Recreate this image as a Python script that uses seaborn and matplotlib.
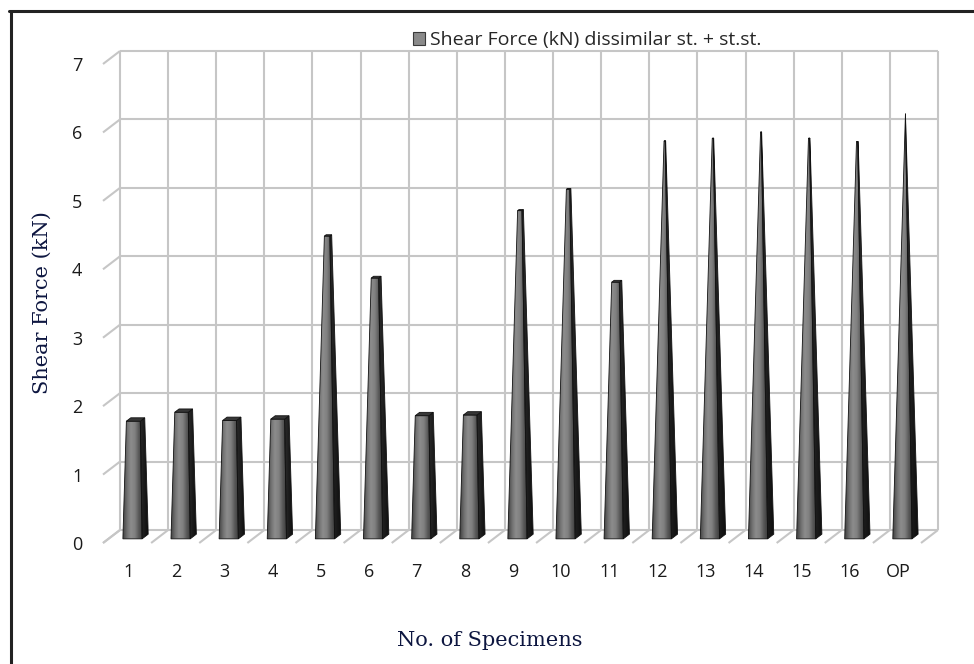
import numpy as np
import pandas as pd
import seaborn as sns
import matplotlib
matplotlib.use("Agg")
import matplotlib.pyplot as plt
import matplotlib.transforms as mtransforms
from matplotlib.patches import Polygon, Patch
from matplotlib.lines import Line2D
from matplotlib.colors import LinearSegmentedColormap

# ---- data -------------------------------------------------------------
specimens = ["1", "2", "3", "4", "5", "6", "7", "8", "9", "10",
             "11", "12", "13", "14", "15", "16", "OP"]
shear_force = [1.71, 1.84, 1.72, 1.74, 4.40, 3.79, 1.79, 1.80, 4.77, 5.08,
               3.73, 5.78, 5.82, 5.91, 5.82, 5.77, 6.18]
y_ticks = [0, 1, 2, 3, 4, 5, 6, 7]
series_label = "Shear Force (kN) dissimilar st. + st.st."
x_title = "No. of Specimens"
y_title = "Shear Force (kN)"

# ---- style ------------------------------------------------------------
sns.set_style("white")
TICK_FONT = ["Open Sans", "DejaVu Sans"]
TITLE_FONT = ["DejaVu Serif"]
TITLE_COLOR = "#0d1640"
GRID_COLOR = "#c6c6c6"
GRID_LW = 1.5

W, H, DPI = 974, 664, 100
fig = plt.figure(figsize=(W / DPI, H / DPI), dpi=DPI)
fig.patch.set_facecolor("white")

# back wall of the 3-D box
ax = fig.add_axes([120 / W, 1 - 530 / H, 818 / W, 479 / H])
df = pd.DataFrame({"Specimen": specimens, "Shear": shear_force})
sns.barplot(data=df, x="Specimen", y="Shear", order=specimens, width=0.4,
            color="#777777", saturation=1, ax=ax)
ax.set_xlim(-0.5, len(specimens) - 0.5)
ax.set_ylim(0, 7)
for sp in ax.spines.values():
    sp.set_visible(False)
ax.set_facecolor("none")
ax.set_xlabel("")
ax.set_ylabel("")

# pixel size of one data unit -> depth direction in data units
p0 = ax.transData.transform((0, 0))
p1 = ax.transData.transform((1, 1))
ppx, ppy = p1 - p0
DEPTH = (-17 / ppx, -13 / ppy)   # back wall (d=0) -> front edge (d=1)


def proj(x, y, d):
    return (x + d * DEPTH[0], y + d * DEPTH[1])


# ---- walls and floor grid --------------------------------------------
n = len(specimens)
xmin, xmax = -0.5, n - 0.5
gkw = dict(color=GRID_COLOR, lw=GRID_LW, clip_on=False, zorder=1,
           solid_capstyle="butt")
for yv in y_ticks:
    ax.plot([xmin, xmax], [yv, yv], **gkw)
    a, b = proj(xmin, yv, 0), proj(xmin, yv, 1)
    ax.plot([a[0], b[0]], [a[1], b[1]], **gkw)
for i in range(n + 1):
    xb = xmin + i
    ax.plot([xb, xb], [0, 7], **gkw)
    a, b = proj(xb, 0, 0), proj(xb, 0, 1)
    ax.plot([a[0], b[0]], [a[1], b[1]], **gkw)

# ---- pyramids built on the seaborn bars -------------------------------
front_cmap = LinearSegmentedColormap.from_list(
    "front", ["#444444", "#707070", "#8c8c8c", "#808080", "#585858", "#3a3a3a"])
side_cmap = LinearSegmentedColormap.from_list("side", ["#2a2a2a", "#0e0e0e"])
grad = np.linspace(0, 1, 64).reshape(1, -1)

vmax = max(shear_force)
bar_depth = 0.36      # fraction of the box depth taken by the square base
dc = 0.5              # bars stand in the middle of the depth
EDGE = "#111111"

for patch in list(ax.patches):
    cx = patch.get_x() + patch.get_width() / 2
    s = patch.get_width()
    v = patch.get_height()
    patch.set_visible(False)
    k = 1 - v / vmax
    h = s / 2 * k
    hd = bar_depth / 2 * k
    df_, db_ = dc + bar_depth / 2, dc - bar_depth / 2

    front = [proj(cx - s / 2, 0, df_), proj(cx + s / 2, 0, df_),
             proj(cx + h, v, dc + hd), proj(cx - h, v, dc + hd)]
    side = [proj(cx + s / 2, 0, df_), proj(cx + s / 2, 0, db_),
            proj(cx + h, v, dc - hd), proj(cx + h, v, dc + hd)]
    top = [proj(cx - h, v, dc + hd), proj(cx + h, v, dc + hd),
           proj(cx + h, v, dc - hd), proj(cx - h, v, dc - hd)]

    for pts, cmap in ((front, front_cmap), (side, side_cmap)):
        poly = Polygon(pts, closed=True, facecolor="none", edgecolor="none",
                       transform=ax.transData)
        xs = [p[0] for p in pts]
        ys = [p[1] for p in pts]
        im = ax.imshow(grad, cmap=cmap, aspect="auto", zorder=3,
                       extent=[min(xs), max(xs), min(ys), max(ys)],
                       interpolation="bilinear")
        im.set_clip_path(poly)
        im.set_clip_box(fig.bbox)
        ax.add_patch(Polygon(pts, closed=True, facecolor="none",
                             edgecolor=EDGE, lw=0.6, zorder=5,
                             clip_on=False, joinstyle="miter"))
    if k > 0.01:
        ax.add_patch(Polygon(top, closed=True, facecolor="#363636",
                             edgecolor=EDGE, lw=0.6, zorder=5,
                             clip_on=False))

ax.set_xlim(xmin, xmax)
ax.set_ylim(0, 7)

# ---- ticks ------------------------------------------------------------
ax.set_yticks(y_ticks)
ax.set_yticklabels([str(t) for t in y_ticks])
ax.set_xticks(range(n))
ax.set_xticklabels(specimens)
ax.tick_params(axis="x", length=0, pad=30, labelsize=13, labelcolor="#1a1a1a")
ax.tick_params(axis="y", length=0, pad=27, labelsize=13, labelcolor="#1a1a1a")
off_x = mtransforms.ScaledTranslation(-16 / DPI, 0, fig.dpi_scale_trans)
off_y = mtransforms.ScaledTranslation(0, -13 / DPI, fig.dpi_scale_trans)
for lab in ax.get_xticklabels():
    lab.set_family(TICK_FONT)
    lab.set_verticalalignment("center")
    lab.set_transform(lab.get_transform() + off_x)
for lab in ax.get_yticklabels():
    lab.set_family(TICK_FONT)
    lab.set_transform(lab.get_transform() + off_y)

# ---- titles -----------------------------------------------------------
ax.set_xlabel(x_title, family=TITLE_FONT, fontsize=15, color=TITLE_COLOR,
              va="center", ha="center")
ax.xaxis.set_label_coords((490 - 120) / 818, (530 - 640) / 479)
ax.set_ylabel(y_title, family=TITLE_FONT, fontsize=15, color=TITLE_COLOR,
              va="center", ha="center")
ax.yaxis.set_label_coords((42 - 120) / 818, (530 - 303) / 479)

# ---- legend -----------------------------------------------------------
handle = Patch(facecolor="#8a8a8a", edgecolor="#3a3a3a", lw=0.8)
fig.legend([handle], [series_label], loc="center",
           bbox_to_anchor=(587 / W, 1 - 40 / H), frameon=False,
           prop={"family": TICK_FONT, "size": 14}, handlelength=0.65,
           handleheight=0.65, handletextpad=0.25, borderaxespad=0)

# ---- chart-area frame (left and top edges) ---------------------------
fig.add_artist(Line2D([10.5 / W, 10.5 / W], [0, 1 - 11 / H],
                      transform=fig.transFigure, color="#222222", lw=2.2))
fig.add_artist(Line2D([9 / W, 1], [1 - 11 / H, 1 - 11 / H],
                      transform=fig.transFigure, color="#222222", lw=2.2))

fig.savefig("out.png", dpi=DPI, facecolor="white")
